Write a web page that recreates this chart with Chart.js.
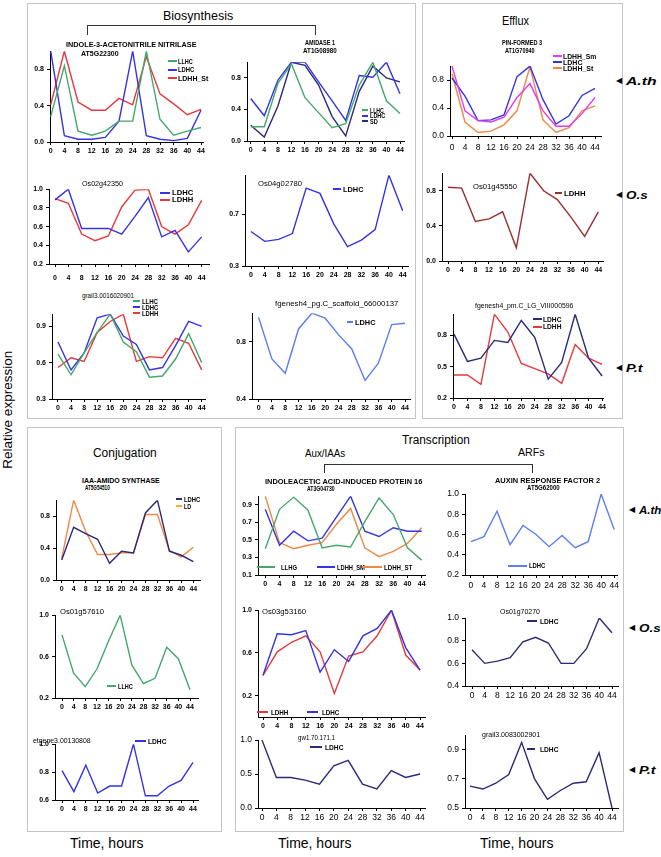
<!DOCTYPE html>
<html>
<head>
<meta charset="utf-8">
<script src="https://cdn.jsdelivr.net/npm/chart.js@4/dist/chart.umd.min.js"></script>
<style>
  body { margin: 0; background: #fff; }
  #page { position: relative; width: 661px; height: 857px; overflow: hidden; background: #fff; font-family: 'Liberation Sans', Arial, sans-serif; color: #000; }
  .box { position: absolute; border: 1px solid #c4c4c4; }
  .t { position: absolute; white-space: nowrap; line-height: 1; transform-origin: 0 50%; }
  .ln { position: absolute; }
  canvas { position: absolute; }
</style>
</head>
<body>
<div id="page"></div>
<script>
// sampling times (hours)
const hours = [0, 4, 8, 12, 16, 20, 24, 28, 32, 36, 40, 44];

// Biosynthesis - INDOLE-3-ACETONITRILE NITRILASE AT5G22300
const nitLLHC   = [0.28, 0.84, 0.12, 0.075, 0.12, 0.23, 0.23, 1.0, 0.25, 0.075, 0.12, 0.16];
const nitLDHC   = [1.0, 0.07, 0.03, 0.03, 0.05, 0.23, 1.0, 0.07, 0.03, 0.015, 0.04, 0.35];
const nitLDHHSt = [0.41, 1.0, 0.44, 0.35, 0.35, 0.48, 0.41, 0.94, 0.53, 0.42, 0.30, 0.36];
// AMIDASE 1 AT1G08980
const amiLLHC = [0.18, 0.18, 0.73, 0.98, 0.55, 0.36, 0.17, 0.22, 0.71, 1.0, 0.51, 0.35];
const amiLDHC = [0.54, 0.32, 0.77, 1.0, 1.0, 0.75, 0.51, 0.26, 0.83, 0.81, 1.0, 0.6];
const amiSD   = [0.2, 0.05, 0.44, 1.0, 0.96, 0.71, 0.31, 0.065, 0.63, 0.95, 0.8, 0.75];
// Efflux - PIN-FORMED 3 AT1G70940
const pinLDHHSm = [1.0, 0.36, 0.22, 0.2, 0.27, 0.55, 0.75, 0.36, 0.14, 0.14, 0.32, 0.55];
const pinLDHC   = [0.83, 0.57, 0.22, 0.23, 0.3, 0.85, 1.0, 0.52, 0.17, 0.29, 0.58, 0.68];
const pinLDHHSt = [0.89, 0.2, 0.05, 0.07, 0.16, 0.36, 0.99, 0.23, 0.05, 0.12, 0.36, 0.43];
// rice
const os02LDHC = [0.886, 1.0, 0.58, 0.58, 0.58, 0.52, 0.71, 0.91, 0.49, 0.56, 0.33, 0.49];
const os02LDHH = [0.9, 0.85, 0.52, 0.45, 0.5, 0.81, 0.99, 1.0, 0.6, 0.52, 0.62, 0.88];
const os04LDHC = [0.566, 0.49, 0.505, 0.55, 0.9, 0.86, 0.625, 0.45, 0.5, 0.58, 1.0, 0.726];
const os45LDHH = [0.84, 0.83, 0.45, 0.48, 0.56, 0.15, 1.0, 0.8, 0.7, 0.5, 0.28, 0.56];
// poplar
const grLLHC = [0.67, 0.5, 0.68, 0.85, 1.0, 0.77, 0.69, 0.48, 0.49, 0.63, 0.84, 0.6];
const grLDHC = [0.77, 0.54, 0.68, 0.97, 1.0, 0.82, 0.75, 0.54, 0.56, 0.74, 0.94, 0.9];
const grLDHH = [0.56, 0.64, 0.61, 0.85, 0.94, 1.0, 0.61, 0.65, 0.64, 0.8, 0.76, 0.54];
const fgScLDHC = [0.97, 0.68, 0.58, 0.89, 1.0, 0.965, 0.85, 0.75, 0.53, 0.65, 0.92, 0.93];
const fgPmLDHC = [0.81, 0.55, 0.58, 0.75, 0.73, 0.94, 0.78, 0.38, 0.54, 1.0, 0.58, 0.41];
const fgPmLDHH = [0.42, 0.42, 0.33, 1.0, 0.83, 0.53, 0.48, 0.43, 0.34, 0.71, 0.58, 0.52];
// Conjugation
const gh3LDHC = [0.25, 0.66, 0.58, 0.51, 0.21, 0.36, 0.34, 0.84, 1.0, 0.36, 0.31, 0.23];
const gh3LD   = [0.27, 1.0, 0.61, 0.32, 0.32, 0.34, 0.34, 0.82, 0.82, 0.37, 0.29, 0.41];
const os57LLHC = [0.81, 0.44, 0.31, 0.48, 0.75, 1.0, 0.52, 0.34, 0.39, 0.69, 0.58, 0.28];
const etLDHC = [0.81, 0.66, 0.85, 0.65, 0.7, 0.7, 1.0, 0.63, 0.63, 0.7, 0.74, 0.87];
// Transcription
const iaaLLHC   = [0.4, 0.85, 0.99, 0.84, 0.41, 0.44, 0.42, 0.71, 0.98, 0.79, 0.41, 0.27];
const iaaLDHHSm = [0.85, 0.44, 0.6, 0.49, 0.52, 0.76, 1.0, 0.6, 0.54, 0.64, 0.6, 0.6];
const iaaLDHHSt = [1.0, 0.47, 0.4, 0.44, 0.47, 0.68, 0.86, 0.41, 0.31, 0.37, 0.46, 0.64];
const arfLDHC = [0.53, 0.58, 0.83, 0.5, 0.69, 0.6, 0.48, 0.59, 0.47, 0.53, 1.0, 0.65];
const os53LDHC = [0.39, 0.78, 0.77, 0.81, 0.42, 0.63, 0.52, 0.76, 0.83, 1.0, 0.65, 0.44];
const os53LDHH = [0.39, 0.61, 0.7, 0.76, 0.61, 0.22, 0.57, 0.61, 0.76, 1.0, 0.58, 0.44];
const os70LDHC = [0.72, 0.6, 0.62, 0.65, 0.79, 0.83, 0.78, 0.6, 0.6, 0.73, 1.0, 0.87];
const gwLDHC = [1.0, 0.45, 0.45, 0.41, 0.35, 0.62, 0.7, 0.35, 0.28, 0.55, 0.45, 0.5];
const gr83LDHC = [0.65, 0.63, 0.67, 0.73, 0.95, 0.7, 0.56, 0.62, 0.67, 0.68, 0.88, 0.5];

const GREEN = '#45a86a', BLUE = '#3434e6', RED = '#e8383a', NAVY = '#2a2a78',
      MAG = '#ea3aea', ORANGE = '#ee8844', BROWN = '#983030', LBLUE = '#5b7ef0';

const page = document.getElementById('page');
Chart.defaults.font.family = "'Liberation Sans', Arial, sans-serif";

function box(x, y, w, h) {
  const d = document.createElement('div');
  d.className = 'box';
  d.style.cssText = `left:${x}px;top:${y}px;width:${w}px;height:${h}px`;
  page.appendChild(d);
}

// text at left x, middle y; optional target width
function txt(x, y, s, size, opt = {}) {
  const d = document.createElement('div');
  d.className = 't';
  d.textContent = s;
  d.style.left = x + 'px';
  d.style.top = (y - size / 2) + 'px';
  d.style.fontSize = size + 'px';
  if (opt.bold) d.style.fontWeight = 'bold';
  if (opt.italic) d.style.fontStyle = 'italic';
  page.appendChild(d);
  if (opt.w) d.style.transform = `scaleX(${opt.w / d.offsetWidth})`;
  return d;
}

function hline(x1, x2, y, color, wd = 2) {
  const d = document.createElement('div');
  d.className = 'ln';
  d.style.cssText = `left:${Math.round(x1)}px;top:${Math.round(y - wd / 2)}px;width:${Math.round(x2 - x1)}px;height:${wd}px;background:${color}`;
  page.appendChild(d);
}
function vline(x, y1, y2) {
  const d = document.createElement('div');
  d.className = 'ln';
  d.style.cssText = `left:${x}px;top:${y1}px;height:${y2 - y1}px;width:1px;background:#333`;
  page.appendChild(d);
}
function bracket(x1, x2, y, y2) {
  hline(x1, x2, y, '#333', 1);
  vline(x1, y, y2);
  vline(x2, y, y2);
}

function legendItem(x1, x2, y, color, label, tx, w, size = 7) {
  hline(x1, x2, y, color, 2);
  txt(tx, y, label, size, { bold: true, w: w });
}

// spec: x0 = y axis px, x1 = x axis end px, p0/p44 = px of hour 0 / 44,
// yTop/yBot = px of max/min
function plot(spec) {
  const padL = 30, padT = 5, padR = 4, padB = spec.padB || 16;
  const left = spec.x0 - padL, top = spec.yTop - padT;
  const w = Math.round(spec.x1 - spec.x0 + padL + padR);
  const h = Math.round(spec.yBot - spec.yTop + padT + padB);
  const cv = document.createElement('canvas');
  cv.width = w; cv.height = h;
  cv.style.left = left + 'px'; cv.style.top = top + 'px';
  cv.style.width = w + 'px'; cv.style.height = h + 'px';
  page.appendChild(cv);
  const ppu = (spec.p44 - spec.p0) / 44;
  const fs = spec.fs || 7;
  const tickFont = { size: fs, weight: spec.light ? 'normal' : 'bold' };
  new Chart(cv, {
    type: 'line',
    data: {
      datasets: spec.series.map(s => ({
        data: hours.map((hr, i) => ({ x: hr, y: s.values[i] })),
        borderColor: s.color,
        borderWidth: 1.4,
        pointRadius: 0,
        tension: 0,
        fill: false
      }))
    },
    options: {
      responsive: false,
      animation: false,
      layout: { padding: { top: padT, right: padR, left: 0, bottom: 0 } },
      plugins: { legend: { display: false }, tooltip: { enabled: false } },
      scales: {
        x: {
          type: 'linear',
          min: -(spec.p0 - spec.x0) / ppu,
          max: 44 + (spec.x1 - spec.p44) / ppu,
          afterBuildTicks: ax => { ax.ticks = hours.map(v => ({ value: v })); },
          afterFit: ax => { ax.height = padB; },
          border: { color: '#000', width: 1 },
          grid: { drawOnChartArea: false, tickLength: 3, color: '#000' },
          ticks: { font: tickFont, color: '#000', padding: spec.xPad || 2, maxRotation: 0, autoSkip: false, callback: v => String(v) }
        },
        y: {
          min: spec.min,
          max: spec.max,
          afterBuildTicks: ax => { ax.ticks = spec.ticks.map(v => ({ value: v })); },
          afterFit: ax => { ax.width = padL; },
          border: { color: '#000', width: 1 },
          grid: { drawOnChartArea: false, tickLength: 3, color: '#000' },
          ticks: { font: tickFont, color: '#000', padding: 3, callback: v => v.toFixed(1) }
        }
      }
    }
  });
}

// ---------- frames ----------
box(27, 3, 387, 414);
box(422, 3, 199, 414);
box(27, 427, 193, 403);
box(235, 427, 387, 403);

// ---------- headings ----------
txt(163, 16, 'Biosynthesis', 12.5, { w: 70 });
bracket(87, 315, 25, 35);
txt(502, 21, 'Efflux', 12.5, { w: 27 });
txt(93, 453, 'Conjugation', 12.5, { w: 64 });
txt(402, 440, 'Transcription', 12.5, { w: 68 });
txt(305, 453, 'Aux/IAAs', 11, { w: 40 });
txt(518, 452, 'ARFs', 11, { w: 27 });
bracket(324, 532, 464, 473);

// species markers
function species(x, y, name, w) {
  txt(x, y, '\u25C0', 8);
  txt(x + 10, y, name, 11, { bold: true, italic: true, w: w });
}
species(616, 81, 'A.th', 30);
species(616, 195, 'O.s', 22);
species(616, 368, 'P.t', 17);
species(629, 510, 'A.th', 22);
species(629, 628, 'O.s', 22);
species(629, 770, 'P.t', 17);

// axis titles
const rel = txt(0, 410, 'Relative expression', 13.5);
rel.style.transformOrigin = '50% 50%';
rel.style.left = (8 - rel.offsetWidth / 2) + 'px';
rel.style.transform = 'rotate(-90deg)';
txt(70, 843, 'Time, hours', 14);
txt(278, 843, 'Time, hours', 14);
txt(480, 843, 'Time, hours', 14);

// ---------- charts ----------
// 1 nitrilase
plot({ x0: 50, x1: 203, p0: 50.7, p44: 201, yTop: 48.5, yBot: 141, min: 0, max: 1, ticks: [0, 0.4, 0.8],
  series: [{ values: nitLLHC, color: GREEN }, { values: nitLDHC, color: BLUE }, { values: nitLDHHSt, color: RED }] });
txt(66, 44, 'INDOLE-3-ACETONITRILE NITRILASE', 7, { bold: true, w: 130 });
txt(81, 53, 'AT5G22300', 7, { bold: true, w: 38 });
legendItem(168, 177, 61, GREEN, 'LLHC', 178, 15);
legendItem(168, 177, 69.7, BLUE, 'LDHC', 178, 16);
legendItem(168, 177, 78, RED, 'LDHH_St', 178, 30);

// 2 amidase
plot({ x0: 247, x1: 404, p0: 250.7, p44: 400, yTop: 59.7, yBot: 141, min: 0, max: 1, ticks: [0, 0.4, 0.8],
  series: [{ values: amiLLHC, color: GREEN }, { values: amiLDHC, color: BLUE }, { values: amiSD, color: NAVY }] });
txt(305, 42, 'AMIDASE 1', 7, { bold: true, w: 30 });
txt(303, 50, 'AT1G08980', 7, { bold: true, w: 34 });
legendItem(362, 368, 110, GREEN, 'LLHC', 370, 14);
legendItem(362, 368, 115.5, BLUE, 'LDHC', 370, 15);
legendItem(362, 368, 121, NAVY, 'SD', 370, 8);

// 3 PIN-FORMED 3
plot({ x0: 450, x1: 601, p0: 452, p44: 595, yTop: 63.3, yBot: 136.7, min: 0, max: 1, ticks: [0, 0.4, 0.8], fs: 8.5, light: true, xPad: 4,
  series: [{ values: pinLDHHSm, color: MAG }, { values: pinLDHC, color: BLUE }, { values: pinLDHHSt, color: ORANGE }] });
txt(502, 42, 'PIN-FORMED 3', 7, { bold: true, w: 40 });
txt(505, 50, 'AT1G70940', 7, { bold: true, w: 30 });
legendItem(553, 562, 56, MAG, 'LDHH_Sm', 563, 33);
legendItem(553, 562, 62, BLUE, 'LDHC', 563, 19);
legendItem(553, 562, 68, ORANGE, 'LDHH_St', 563, 30);

// 4 Os02g42350
plot({ x0: 49, x1: 209, p0: 55, p44: 201.7, yTop: 187.3, yBot: 264.3, min: 0.2, max: 1, ticks: [0.2, 0.4, 0.6, 0.8, 1.0], padB: 20, xPad: 7,
  series: [{ values: os02LDHC, color: BLUE }, { values: os02LDHH, color: RED }] });
txt(82, 183.5, 'Os02g42350', 7.5, { w: 41 });
legendItem(160, 170, 192.7, BLUE, 'LDHC', 172, 21, 8);
legendItem(160, 170, 200, RED, 'LDHH', 172, 21, 8);

// 5 Os04g02780
plot({ x0: 245, x1: 408, p0: 251, p44: 402.7, yTop: 173, yBot: 265.5, min: 0.3, max: 1, ticks: [0.3, 0.7],
  series: [{ values: os04LDHC, color: BLUE }] });
txt(258, 183.5, 'Os04g02780', 7.5, { w: 44 });
legendItem(333, 341, 189.3, BLUE, 'LDHC', 343, 20);

// 6 Os01g45550
plot({ x0: 442.3, x1: 603, p0: 448.3, p44: 598.3, yTop: 171, yBot: 261, min: 0, max: 1, ticks: [0, 0.4, 0.8],
  series: [{ values: os45LDHH, color: BROWN }] });
txt(473, 187, 'Os01g45550', 7.5, { w: 44 });
legendItem(555, 562, 193.3, BROWN, 'LDHH', 564, 21);

// 7 grail3.0016020901
plot({ x0: 51.7, x1: 205, p0: 57.7, p44: 201.7, yTop: 311.7, yBot: 399, min: 0.3, max: 1, ticks: [0.3, 0.6, 0.9],
  series: [{ values: grLLHC, color: GREEN }, { values: grLDHC, color: BLUE }, { values: grLDHH, color: RED }] });
txt(82, 296, 'grail3.0016020901', 7.5, { w: 52 });
legendItem(133, 140, 301, GREEN, 'LLHC', 142, 16);
legendItem(133, 140, 307.3, BLUE, 'LDHC', 142, 16);
legendItem(133, 140, 313.3, RED, 'LDHH', 142, 16);

// 8 fgenesh4_pg.C_scaffold_66000137
plot({ x0: 251.7, x1: 410, p0: 258.3, p44: 405, yTop: 310.5, yBot: 398.3, min: 0.4, max: 1, ticks: [0.4, 0.8],
  series: [{ values: fgScLDHC, color: LBLUE }] });
txt(275, 303.3, 'fgenesh4_pg.C_scaffold_66000137', 7, { w: 123 });
legendItem(347, 353, 322.3, LBLUE, 'LDHC', 355, 20);

// 9 fgenesh4_pm.C_LG_VIII000596
plot({ x0: 453.3, x1: 604, p0: 454.3, p44: 602.7, yTop: 312.3, yBot: 398.3, min: 0.2, max: 1, ticks: [0.2, 0.5, 0.8],
  series: [{ values: fgPmLDHC, color: NAVY }, { values: fgPmLDHH, color: RED }] });
txt(475, 305, 'fgenesh4_pm.C_LG_VIII000596', 7, { w: 98 });
legendItem(533, 542, 319.3, NAVY, 'LDHC', 543, 18);
legendItem(533, 542, 326.7, RED, 'LDHH', 543, 18);

// 10 IAA-AMIDO SYNTHASE
plot({ x0: 56, x1: 200, p0: 61.7, p44: 193.3, yTop: 498.3, yBot: 580.3, min: 0, max: 1, ticks: [0, 0.4, 0.8],
  series: [{ values: gh3LDHC, color: NAVY }, { values: gh3LD, color: ORANGE }] });
txt(82, 480, 'IAA-AMIDO SYNTHASE', 7, { bold: true, w: 78 });
txt(85, 487, 'AT5G54510', 7, { bold: true, w: 25 });
legendItem(176, 182, 499, NAVY, 'LDHC', 184, 16);
legendItem(176, 182, 506, '#f0b030', 'LD', 184, 7);

// 11 Os01g57610
plot({ x0: 55, x1: 198, p0: 62, p44: 190, yTop: 613, yBot: 698, min: 0.2, max: 1, ticks: [0.2, 0.6, 1.0],
  series: [{ values: os57LLHC, color: GREEN }] });
txt(60, 612, 'Os01g57610', 7.5, { w: 44 });
legendItem(107, 116, 686, GREEN, 'LLHC', 118, 15);

// 12 etgene3.00130808
plot({ x0: 55, x1: 198, p0: 62, p44: 193, yTop: 742, yBot: 800, min: 0.6, max: 1, ticks: [0.6, 0.8, 1.0],
  series: [{ values: etLDHC, color: BLUE }] });
txt(33, 741, 'etgene3.00130808', 7.5, { w: 58 });
legendItem(135, 146, 741, BLUE, 'LDHC', 148, 18);

// 13 INDOLEACETIC ACID-INDUCED PROTEIN 16
plot({ x0: 257.7, x1: 425, p0: 265, p44: 421.7, yTop: 494, yBot: 575, min: 0.1, max: 1, ticks: [0.1, 0.3, 0.5, 0.7, 0.9],
  series: [{ values: iaaLLHC, color: GREEN }, { values: iaaLDHHSm, color: BLUE }, { values: iaaLDHHSt, color: ORANGE }] });
txt(265, 481.7, 'INDOLEACETIC ACID-INDUCED PROTEIN 16', 7, { bold: true, w: 157 });
txt(307, 488.3, 'AT3G04730', 7, { bold: true, w: 28 });
legendItem(257, 275, 567.3, GREEN, 'LLHG', 281, 16);
legendItem(317, 335, 567.3, BLUE, 'LDHH_SM', 337, 28);
legendItem(362, 382, 567.3, ORANGE, 'LDHH_ST', 384, 28);

// 14 AUXIN RESPONSE FACTOR 2
plot({ x0: 465, x1: 618, p0: 471, p44: 615, yTop: 491, yBot: 575, min: 0.2, max: 1, ticks: [0.2, 0.4, 0.6, 0.8, 1.0], fs: 8.5, light: true, xPad: 3,
  series: [{ values: arfLDHC, color: LBLUE }] });
txt(495, 480.7, 'AUXIN RESPONSE FACTOR 2', 7, { bold: true, w: 105 });
txt(527, 487.7, 'AT5G62000', 7, { bold: true, w: 33 });
legendItem(508, 527, 565.7, LBLUE, 'LDHC', 529, 16);

// 15 Os03g53160
plot({ x0: 258, x1: 425, p0: 263, p44: 420, yTop: 608, yBot: 717, min: 0, max: 1, ticks: [0.2, 0.6, 1.0],
  series: [{ values: os53LDHC, color: BLUE }, { values: os53LDHH, color: RED }] });
txt(262, 612, 'Os03g53160', 7.5, { w: 44 });
legendItem(257, 268, 712, RED, 'LDHH', 271, 17);
legendItem(307, 318, 712, BLUE, 'LDHC', 322, 17);

// 16 Os01g70270
plot({ x0: 465, x1: 618, p0: 472, p44: 612, yTop: 615, yBot: 686, min: 0.4, max: 1, ticks: [0.4, 0.6, 0.8, 1.0], fs: 8.5, light: true,
  series: [{ values: os70LDHC, color: NAVY }] });
txt(500, 612, 'Os01g70270', 7.5, { w: 40 });
legendItem(527, 537, 621, NAVY, 'LDHC', 540, 18);

// 17 gw1.70.171.1
plot({ x0: 258, x1: 425, p0: 262, p44: 420, yTop: 737, yBot: 808, min: 0, max: 1, ticks: [0, 0.5, 1.0], fs: 8.5, light: true,
  series: [{ values: gwLDHC, color: NAVY }] });
txt(298, 738, 'gw1.70.171.1', 7.5, { w: 37 });
legendItem(310, 322, 747, NAVY, 'LDHC', 325, 18);

// 18 grail3.0083002901
plot({ x0: 465, x1: 618, p0: 470, p44: 612, yTop: 732, yBot: 808, min: 0.5, max: 1, ticks: [0.5, 0.7, 0.9], fs: 8.5, light: true,
  series: [{ values: gr83LDHC, color: NAVY }] });
txt(482, 735, 'grail3.0083002901', 7.5, { w: 58 });
legendItem(527, 535, 749, NAVY, 'LDHC', 540, 18);
</script>
</body>
</html>
